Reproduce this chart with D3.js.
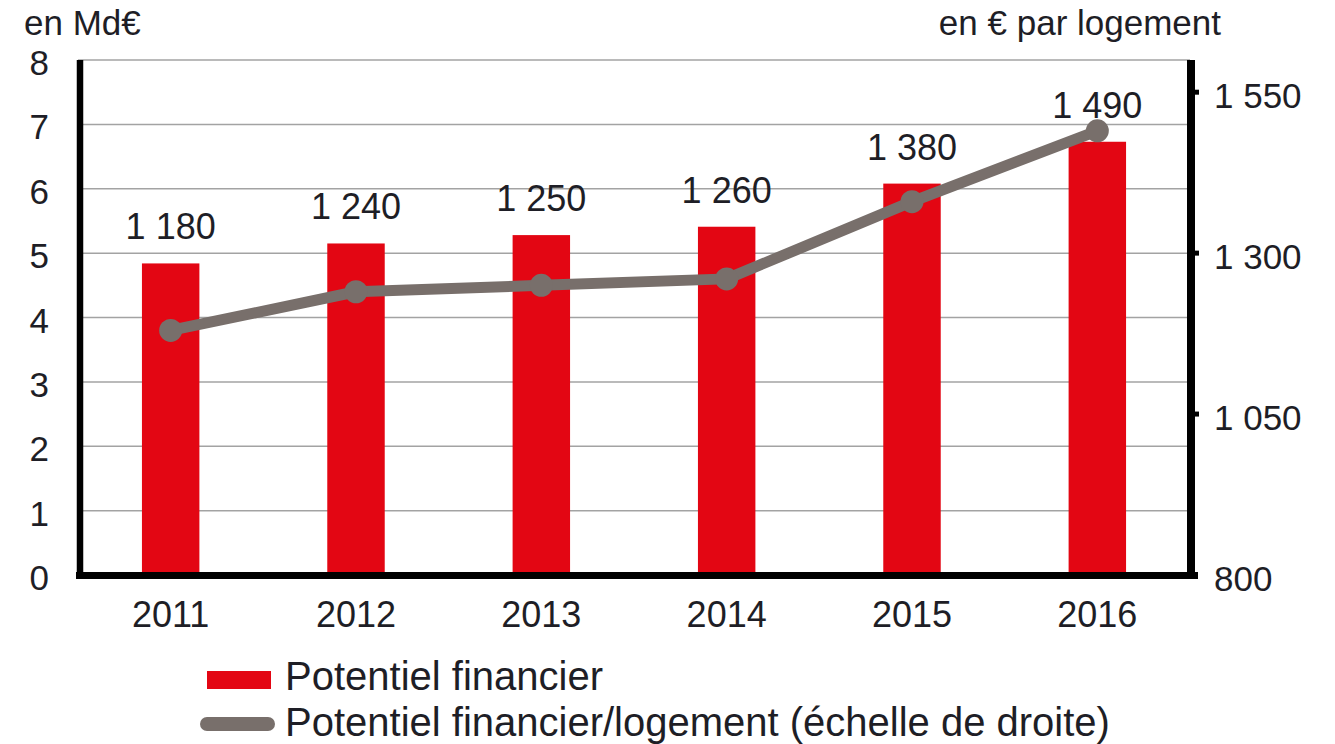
<!DOCTYPE html>
<html>

<head>
    <meta charset="utf-8">
    <style type="text/css">
        body {
            margin: 0;
            background: #fff;
        }

        text {
            font-family: "Liberation Sans", Arial, Helvetica, sans-serif;
            fill: #1e1e26;
        }
    </style>
</head>

<body>
    <div id="canvas"></div>

    <script type="text/javascript" src="https://cdn.jsdelivr.net/npm/d3@7/dist/d3.min.js"></script>
    <script type="text/javascript">
        // data
        var years = ['2011', '2012', '2013', '2014', '2015', '2016'];
        var potentiel = [4.84, 5.15, 5.28, 5.41, 6.08, 6.73];          // Md€ (left)
        var parLogement = [1180, 1240, 1250, 1260, 1380, 1490];       // € per logement (right)
        var leftTicks = [0, 1, 2, 3, 4, 5, 6, 7, 8];
        var rightTicks = [800, 1050, 1300, 1550];
        var legendLabels = ['Potentiel financier', 'Potentiel financier/logement (échelle de droite)'];

        (function () {
            var width = 1335, height = 744;
            var plotLeft = 78, plotRight = 1190, plotTop = 60, plotBottom = 575;

            var fmt = function (v) {
                // french thousands separator
                return d3.format(',')(v).replace(/,/g, ' ');
            };

            var svg = d3.select('#canvas').append('svg')
                .attr('width', width)
                .attr('height', height);

            var x = d3.scaleBand().domain(years).range([plotLeft, plotRight]).padding(0);
            var yL = d3.scaleLinear().domain([0, 8]).range([plotBottom, plotTop]);
            var yR = d3.scaleLinear().domain([800, 1600]).range([plotBottom, plotTop]);
            var barW = x.bandwidth() * 0.31;
            var cx = function (d) { return x(d) + x.bandwidth() / 2; };

            // gridlines
            svg.append('g').selectAll('line')
                .data(leftTicks.slice(1))
                .enter().append('line')
                .attr('x1', plotLeft).attr('x2', plotRight)
                .attr('y1', function (d) { return yL(d); })
                .attr('y2', function (d) { return yL(d); })
                .attr('stroke', '#a3a3a3')
                .attr('stroke-width', 1.5);

            // bars
            svg.append('g').selectAll('rect')
                .data(years)
                .enter().append('rect')
                .attr('x', function (d) { return cx(d) - barW / 2; })
                .attr('y', function (d, i) { return yL(potentiel[i]); })
                .attr('width', barW)
                .attr('height', function (d, i) { return yL(0) - yL(potentiel[i]); })
                .attr('fill', '#e30613');

            // axis lines
            svg.append('line').attr('x1', 80).attr('x2', 80).attr('y1', plotTop).attr('y2', plotBottom + 4)
                .attr('stroke', '#000').attr('stroke-width', 6.5);
            svg.append('line').attr('x1', 1191).attr('x2', 1191).attr('y1', plotTop).attr('y2', plotBottom + 4)
                .attr('stroke', '#000').attr('stroke-width', 8);
            svg.append('line').attr('x1', 76).attr('x2', 1198).attr('y1', plotBottom + 0.5).attr('y2', plotBottom + 0.5)
                .attr('stroke', '#000').attr('stroke-width', 7);

            // right axis small ticks
            svg.append('g').selectAll('line')
                .data(rightTicks.slice(1))
                .enter().append('line')
                .attr('x1', 1191).attr('x2', 1199)
                .attr('y1', function (d) { return yR(d); })
                .attr('y2', function (d) { return yR(d); })
                .attr('stroke', '#000').attr('stroke-width', 5);

            // tick labels
            svg.append('g').selectAll('text')
                .data(leftTicks)
                .enter().append('text')
                .attr('x', 49)
                .attr('y', function (d) { return yL(d) + 15; })
                .attr('text-anchor', 'end')
                .attr('font-size', 35)
                .text(function (d) { return d; });

            svg.append('g').selectAll('text')
                .data(rightTicks)
                .enter().append('text')
                .attr('x', 1214)
                .attr('y', function (d) { return yR(d) + 16; })
                .attr('font-size', 35)
                .text(fmt);

            svg.append('g').selectAll('text')
                .data(years)
                .enter().append('text')
                .attr('x', cx)
                .attr('y', 627)
                .attr('text-anchor', 'middle')
                .attr('font-size', 36)
                .text(function (d) { return d; });

            // axis titles
            svg.append('text').attr('x', 24).attr('y', 35).attr('font-size', 35).text('en Md€');
            svg.append('text').attr('x', 1221).attr('y', 35).attr('text-anchor', 'end')
                .attr('font-size', 35).text('en € par logement');

            // line
            var line = d3.line()
                .x(function (d, i) { return cx(years[i]); })
                .y(function (d) { return yR(d); });

            svg.append('path')
                .datum(parLogement)
                .attr('d', line)
                .attr('fill', 'none')
                .attr('stroke', '#786f6b')
                .attr('stroke-width', 11)
                .attr('stroke-linejoin', 'round');

            svg.append('g').selectAll('circle')
                .data(parLogement)
                .enter().append('circle')
                .attr('cx', function (d, i) { return cx(years[i]); })
                .attr('cy', function (d) { return yR(d); })
                .attr('r', 11.5)
                .attr('fill', '#786f6b');

            // data labels above bars
            svg.append('g').selectAll('text')
                .data(parLogement)
                .enter().append('text')
                .attr('x', function (d, i) { return cx(years[i]); })
                .attr('y', function (d, i) { return yL(potentiel[i]) - 24; })
                .attr('text-anchor', 'middle')
                .attr('font-size', 36)
                .text(fmt);

            // legend
            var lg = svg.append('g');
            lg.append('rect').attr('x', 207).attr('y', 671).attr('width', 64).attr('height', 18)
                .attr('fill', '#e30613');
            lg.append('line').attr('x1', 207).attr('x2', 268).attr('y1', 724).attr('y2', 724)
                .attr('stroke', '#786f6b').attr('stroke-width', 14).attr('stroke-linecap', 'round');
            lg.selectAll('text')
                .data(legendLabels)
                .enter().append('text')
                .attr('x', 285)
                .attr('y', function (d, i) { return 690 + i * 46; })
                .attr('font-size', 40)
                .text(function (d) { return d; });
        })();
    </script>
</body>

</html>
